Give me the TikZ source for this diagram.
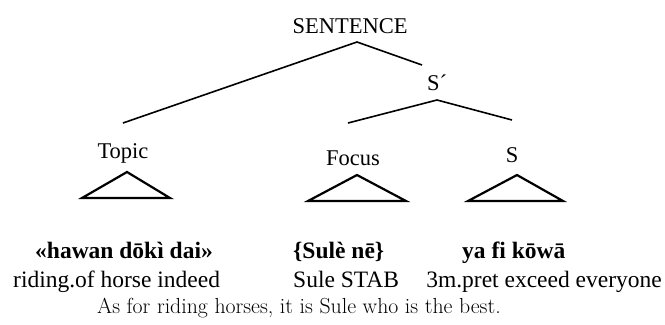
\documentclass[tikz,border=0pt]{standalone}
\usepackage{fontspec}
\setmainfont{Liberation Serif}
\newfontfamily\lmfont{Latin Modern Roman}
\begin{document}
\begin{tikzpicture}[x=1bp,y=-1bp,
  lbl/.style={inner sep=0pt,anchor=base,font=\fontsize{22.5bp}{26bp}\selectfont},
  txt/.style={inner sep=0pt,font=\fontsize{23.5bp}{27bp}\selectfont},
  hau/.style={txt,font=\fontsize{23.5bp}{27bp}\selectfont\bfseries},
  branch/.style={line width=1.6bp},
  tri/.style={line width=2.2bp,line join=miter}]
\useasboundingbox (0,0) rectangle (665,324);
% category labels
\node[lbl] (sent) at (350,33) {SENTENCE};
\node[lbl] (sbar) at (437,90) {S´};
\node[lbl] (topic) at (123,158) {Topic};
\node[lbl] (focus) at (353,165) {Focus};
\node[lbl] (s) at (512,162) {S};
% branch end points
\coordinate (sentB) at (357,42);
\coordinate (topicT) at (123,123);
\coordinate (sbarT) at (422,65);
\coordinate (sbarB) at (437,100);
\coordinate (focusT) at (348,123);
\coordinate (sT) at (512,120);
\draw[branch] (topicT) -- (sentB) -- (sbarT);
\draw[branch] (focusT) -- (sbarB) -- (sT);
% triangles
\coordinate (t1a) at (127,172); \coordinate (t1l) at (82,198); \coordinate (t1r) at (170,198);
\coordinate (t2a) at (357,175); \coordinate (t2l) at (308,201); \coordinate (t2r) at (406,201);
\coordinate (t3a) at (517,175); \coordinate (t3l) at (468,201); \coordinate (t3r) at (563,201);
\draw[tri] (t1a) -- (t1r) -- (t1l) -- cycle;
\draw[tri] (t2a) -- (t2r) -- (t2l) -- cycle;
\draw[tri] (t3a) -- (t3r) -- (t3l) -- cycle;
% Hausa line
\node[hau,anchor=base west] (h1) at (35,258) {«hawan dōkì dai»};
\node[hau,anchor=base west] (h2) at (293,258) {\{Sulè nē\}};
\node[hau,anchor=base west] (h3) at (462,258) {ya fi kōwā};
% gloss line
\node[txt,anchor=base west] (g1) at (13,287) {riding.of horse indeed};
\node[txt,anchor=base west] (g2) at (293,287) {Sule STAB};
\node[txt,anchor=base east] (g3) at (662,287) {3m.pret exceed everyone};
% translation
\node[inner sep=0pt,anchor=base west,font=\lmfont\fontsize{21.8bp}{26bp}\selectfont] (tr) at (97,313) {As for riding horses, it is Sule who is the best.};
\end{tikzpicture}
\end{document}
